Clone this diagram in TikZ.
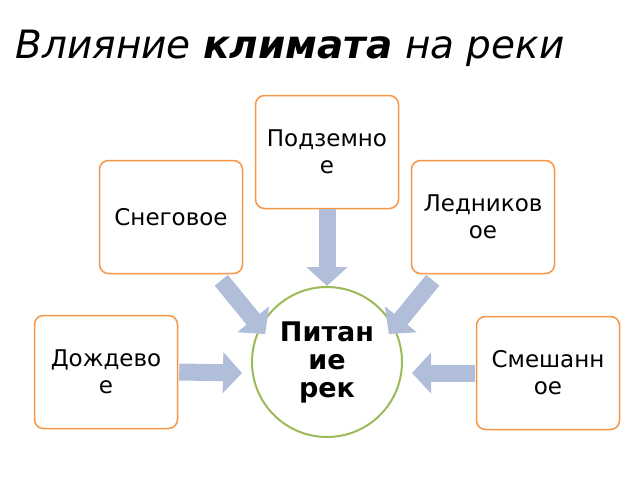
\documentclass[tikz,border=0pt]{standalone}
\usepackage{fontspec}
\setmainfont{DejaVu Sans}
\usetikzlibrary{arrows.meta}
\definecolor{boxline}{HTML}{F79646}
\definecolor{ringline}{HTML}{9BBB59}
\definecolor{flowfill}{HTML}{B0BEDA}
\begin{document}
\begin{tikzpicture}[x=1pt,y=-1pt]
    \tikzstyle{source} = [draw=boxline, line width=1.5pt, rounded corners=9pt, fill=white,
      minimum width=143pt, minimum height=113pt, align=center, font=\fontsize{23}{27}\selectfont]
    \tikzstyle{hub} = [draw=ringline, line width=2pt, circle, minimum size=150pt, fill=white,
      align=center, font=\fontsize{27}{28}\selectfont\bfseries]
    \tikzstyle{flow} = [draw=flowfill, line width=17pt, -{Triangle[length=19pt,width=40pt]}]
    \useasboundingbox (0,0) rectangle (640,480);
    \node[anchor=west, font=\fontsize{39}{44}\selectfont\itshape] (title) at (12,48)
      {Влияние \textbf{климата} на реки};
    \node[hub] (river) at (327,362) {Питан\\ие\\рек};
    \node[source] (under) at (327,152) {Подземно\\е};
    \node[source] (snow) at (171,217) {Снеговое};
    \node[source] (ice) at (483,217) {Ледников\\ое};
    \node[source] (rain) at (106,372) {Дождево\\е};
    \node[source] (mixed) at (548,373) {Смешанн\\ое};
    % arrows towards the hub
    \draw[flow] (under.south) -- (river.north);
    \draw[flow] ([xshift=-22pt,yshift=-6pt]snow.south east) -- ([xshift=4pt,yshift=-10pt]river.150);
    \draw[flow] ([xshift=22pt,yshift=-6pt]ice.south west) -- ([xshift=-4pt,yshift=-10pt]river.30);
    \draw[flow] ([xshift=1pt]rain.east) -- ([xshift=-9pt,yshift=-11pt]river.west);
    \draw[flow] ([xshift=-1pt]mixed.west) -- ([xshift=9pt,yshift=-11pt]river.east);
\end{tikzpicture}
\end{document}
